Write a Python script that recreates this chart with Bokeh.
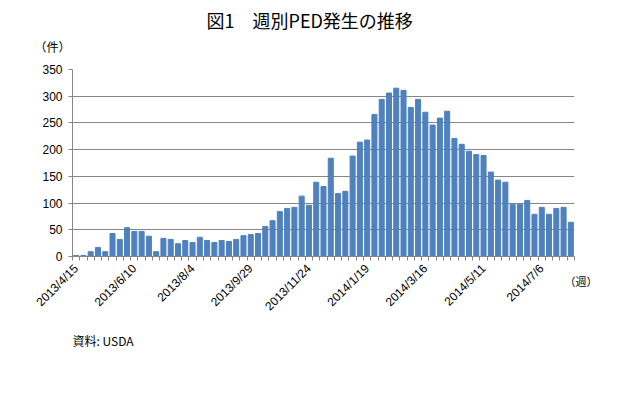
from bokeh.plotting import figure
from bokeh.models import FixedTicker, Range1d, Title, LinearAxis
from bokeh.embed import file_html
from bokeh.resources import INLINE

# weekly PED cases (69 weeks starting 2013/4/15)
cases = [2, 2, 9, 17, 9, 43, 32, 54, 47, 47, 38, 9, 34, 32, 24, 30, 26, 36, 30, 26,
         30, 28, 32, 39, 41, 43, 56, 67, 84, 90, 92, 113, 96, 139, 131, 184, 118, 122,
         188, 214, 218, 266, 294, 306, 315, 311, 279, 294, 270, 246, 259, 272, 221,
         210, 197, 191, 189, 158, 143, 139, 98, 98, 105, 79, 92, 79, 90, 92, 64]
week_index = list(range(len(cases)))
tick_positions = [0, 8, 16, 24, 32, 40, 48, 56, 64]
tick_labels = ["2013/4/15", "2013/6/10", "2013/8/4", "2013/9/29", "2013/11/24",
               "2014/1/19", "2014/3/16", "2014/5/11", "2014/7/6"]
y_ticks = [0, 50, 100, 150, 200, 250, 300, 350]

title_text = "図1\u3000週別PED発生の推移"
y_unit = "（件）"
x_unit = "（週）"
source_text = "資料: USDA"

BAR = "#4F81BD"
GRID = "#868686"
JP = "Noto Sans CJK JP"
NUM = "Liberation Sans"

p = figure(width=621, height=394, output_backend="svg", toolbar_location=None,
           x_range=Range1d(-0.5, len(cases) - 0.5), y_range=Range1d(0, 350),
           min_border_left=72, min_border_right=47, min_border_top=69,
           min_border_bottom=138)
p.outline_line_color = None
p.background_fill_color = "white"
p.border_fill_color = "white"

p.vbar(x=week_index, top=cases, width=0.69, color=BAR)

# x axis
p.xaxis.ticker = FixedTicker(ticks=tick_positions,
                             minor_ticks=[i - 0.5 for i in range(len(cases) + 1)])
p.xaxis.major_label_overrides = {t: l for t, l in zip(tick_positions, tick_labels)}
p.xaxis.major_label_orientation = 0.785398
p.xaxis.major_tick_line_color = None
p.xaxis.minor_tick_in = 0
p.xaxis.minor_tick_out = 4
p.xaxis.minor_tick_line_color = GRID
p.xaxis.axis_line_color = GRID
p.xaxis.major_label_text_font = NUM
p.xaxis.major_label_text_font_size = "12px"
p.xaxis.major_label_text_color = "black"
p.xaxis.major_label_standoff = 4

# unit of the week axis: a label-only axis on the right, its text dropped below the baseline
unit_axis = LinearAxis(ticker=FixedTicker(ticks=[0], minor_ticks=[]),
                       major_label_overrides={0: "\n\n\n" + x_unit},
                       axis_line_color=None, major_tick_line_color=None,
                       minor_tick_line_color=None, major_tick_in=0, major_tick_out=0,
                       major_label_standoff=-10,
                       major_label_text_font=JP, major_label_text_font_size="11px",
                       major_label_text_line_height=1.0,
                       major_label_text_color="black")
p.add_layout(unit_axis, "right")

# y axis
p.yaxis[0].ticker = FixedTicker(ticks=y_ticks, minor_ticks=[])
p.yaxis[0].major_tick_in = 0
p.yaxis[0].major_tick_out = 4
p.yaxis[0].major_tick_line_color = GRID
p.yaxis[0].axis_line_color = GRID
p.yaxis[0].major_label_text_font = NUM
p.yaxis[0].major_label_text_font_size = "12px"
p.yaxis[0].major_label_text_color = "black"
p.yaxis[0].major_label_standoff = 6

p.xgrid.grid_line_color = None
p.ygrid.ticker = FixedTicker(ticks=y_ticks)
p.ygrid.grid_line_color = GRID
p.ygrid.grid_line_width = 1.2

# texts outside the frame
p.add_layout(Title(text=y_unit, align="left", offset=-38, standoff=30,
                   text_font=JP, text_font_size="12px", text_font_style="normal",
                   text_color="black"), "above")
try:
    main_title = Title(text=title_text, align="left", offset=134, standoff=-24,
                       text_font=JP, text_font_size="18px", text_font_style="normal",
                       text_color="black")
except Exception:
    main_title = Title(text=title_text, align="left", offset=134, standoff=0,
                       text_font=JP, text_font_size="18px", text_font_style="normal",
                       text_color="black")
p.add_layout(main_title, "above")
p.add_layout(Title(text=source_text, align="left", offset=0, standoff=16,
                   text_font=JP, text_font_size="12px", text_font_style="normal",
                   text_color="black"), "below")

open("out.html", "w").write(file_html(p, INLINE))
